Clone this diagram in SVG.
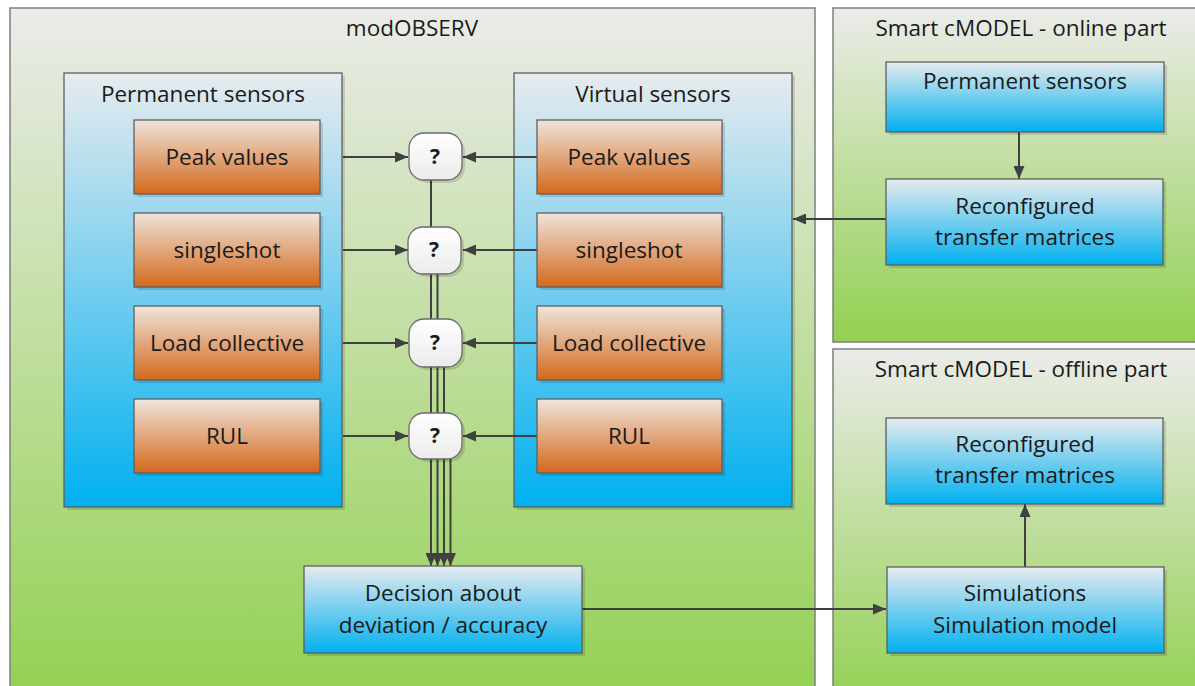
<svg xmlns="http://www.w3.org/2000/svg" width="1195" height="686" viewBox="0 0 1195 686">
  <defs>
    <linearGradient id="gGreen" x1="0" y1="0" x2="0" y2="1">
      <stop offset="0" stop-color="#ebebe9"/>
      <stop offset="1" stop-color="#92d050"/>
    </linearGradient>
    <linearGradient id="gBlue" x1="0" y1="0" x2="0" y2="1">
      <stop offset="0" stop-color="#e7ebee"/>
      <stop offset="1" stop-color="#00b0f0"/>
    </linearGradient>
    <linearGradient id="gOrange" x1="0" y1="0" x2="0" y2="1">
      <stop offset="0" stop-color="#f0e4dc"/>
      <stop offset="1" stop-color="#d2691c"/>
    </linearGradient>
    <linearGradient id="gWhite" x1="0" y1="0" x2="0" y2="1">
      <stop offset="0" stop-color="#ffffff"/>
      <stop offset="1" stop-color="#ebebeb"/>
    </linearGradient>
    <marker id="arr" viewBox="0 0 13 11" refX="13" refY="5.5" markerWidth="13" markerHeight="11" markerUnits="userSpaceOnUse" orient="auto">
      <path d="M0,0 L13,5.5 L0,11 Z" fill="#404040"/>
    </marker>
  </defs>
  <style>
    .frame { stroke: #7f7f7f; stroke-width: 1.5; fill: url(#gGreen); }
    .box { stroke: #5f5f5f; stroke-width: 1.3; }
    .blue { fill: url(#gBlue); }
    .orange { fill: url(#gOrange); }
    .q { fill: url(#gWhite); stroke: #6a6a6a; stroke-width: 1.3; }
    .shadow { fill: #000; opacity: 0.13; }
    text { font-family: "Open Sans", "Liberation Sans", sans-serif; font-size: 22.5px; fill: #1a1a1a; text-anchor: middle; }
    .qt { font-weight: bold; font-size: 21px; }
    .link { stroke: #404040; stroke-width: 2; fill: none; }
  </style>

  <rect width="1195" height="686" fill="#ffffff"/>

  <!-- containers -->
  <g id="modOBSERV">
    <rect class="frame" x="10" y="8" width="805" height="700"/>
    <text x="412" y="36">modOBSERV</text>
  </g>
  <g id="online-part">
    <rect class="frame" x="833" y="8" width="380" height="334"/>
    <text x="1021" y="36">Smart cMODEL - online part</text>
  </g>
  <g id="offline-part">
    <rect class="frame" x="833" y="349" width="380" height="360"/>
    <text x="1021" y="377">Smart cMODEL - offline part</text>
  </g>

  <g id="permanent-sensors">
    <rect class="shadow" x="67" y="76" width="278" height="434"/>
    <rect class="box blue" x="64" y="73" width="278" height="434"/>
    <text x="203" y="102">Permanent sensors</text>
  </g>
  <g id="virtual-sensors">
    <rect class="shadow" x="517" y="76" width="278" height="434"/>
    <rect class="box blue" x="514" y="73" width="278" height="434"/>
    <text x="653" y="102">Virtual sensors</text>
  </g>

  <!-- connectors -->
  <g id="connectors">
    <!-- inputs into comparison nodes -->
    <line class="link" x1="343" y1="157" x2="408" y2="157" marker-end="url(#arr)"/>
    <line class="link" x1="343" y1="250" x2="408" y2="250" marker-end="url(#arr)"/>
    <line class="link" x1="343" y1="343" x2="408" y2="343" marker-end="url(#arr)"/>
    <line class="link" x1="343" y1="436" x2="408" y2="436" marker-end="url(#arr)"/>
    <line class="link" x1="537" y1="157" x2="463" y2="157" marker-end="url(#arr)"/>
    <line class="link" x1="537" y1="250" x2="463" y2="250" marker-end="url(#arr)"/>
    <line class="link" x1="537" y1="343" x2="463" y2="343" marker-end="url(#arr)"/>
    <line class="link" x1="537" y1="436" x2="463" y2="436" marker-end="url(#arr)"/>
    <!-- comparison nodes to decision -->
    <line class="link" x1="431" y1="180" x2="431" y2="566" marker-end="url(#arr)"/>
    <line class="link" x1="437.5" y1="273" x2="437.5" y2="566" marker-end="url(#arr)"/>
    <line class="link" x1="444" y1="367" x2="444" y2="566" marker-end="url(#arr)"/>
    <line class="link" x1="450.5" y1="459" x2="450.5" y2="566" marker-end="url(#arr)"/>
    <!-- decision to simulations -->
    <line class="link" x1="582" y1="609" x2="886" y2="609" marker-end="url(#arr)"/>
    <!-- online part -->
    <line class="link" x1="1019" y1="132" x2="1019" y2="179" marker-end="url(#arr)"/>
    <line class="link" x1="886" y1="219" x2="793" y2="219" marker-end="url(#arr)"/>
    <!-- offline part -->
    <line class="link" x1="1025" y1="567" x2="1025" y2="504" marker-end="url(#arr)"/>
  </g>

  <!-- permanent sensor values -->
  <g id="p-peak">
    <rect class="shadow" x="137" y="123" width="186" height="74"/>
    <rect class="box orange" x="134" y="120" width="186" height="74"/>
    <text x="227" y="165">Peak values</text>
  </g>
  <g id="p-singleshot">
    <rect class="shadow" x="137" y="216" width="186" height="74"/>
    <rect class="box orange" x="134" y="213" width="186" height="74"/>
    <text x="227" y="258">singleshot</text>
  </g>
  <g id="p-load">
    <rect class="shadow" x="137" y="309" width="186" height="74"/>
    <rect class="box orange" x="134" y="306" width="186" height="74"/>
    <text x="227" y="351">Load collective</text>
  </g>
  <g id="p-rul">
    <rect class="shadow" x="137" y="402" width="186" height="74"/>
    <rect class="box orange" x="134" y="399" width="186" height="74"/>
    <text x="227" y="444">RUL</text>
  </g>

  <!-- virtual sensor values -->
  <g id="v-peak">
    <rect class="shadow" x="540" y="123" width="185" height="74"/>
    <rect class="box orange" x="537" y="120" width="185" height="74"/>
    <text x="629" y="165">Peak values</text>
  </g>
  <g id="v-singleshot">
    <rect class="shadow" x="540" y="216" width="185" height="74"/>
    <rect class="box orange" x="537" y="213" width="185" height="74"/>
    <text x="629" y="258">singleshot</text>
  </g>
  <g id="v-load">
    <rect class="shadow" x="540" y="309" width="185" height="74"/>
    <rect class="box orange" x="537" y="306" width="185" height="74"/>
    <text x="629" y="351">Load collective</text>
  </g>
  <g id="v-rul">
    <rect class="shadow" x="540" y="402" width="185" height="74"/>
    <rect class="box orange" x="537" y="399" width="185" height="74"/>
    <text x="629" y="444">RUL</text>
  </g>

  <!-- comparison nodes -->
  <g id="cmp-peak">
    <rect class="shadow" x="412" y="136" width="53" height="47" rx="15"/>
    <rect class="q" x="409" y="133" width="53" height="47" rx="15"/>
    <text class="qt" x="435" y="164">?</text>
  </g>
  <g id="cmp-singleshot">
    <rect class="shadow" x="411" y="230" width="53" height="47" rx="15"/>
    <rect class="q" x="408" y="227" width="53" height="47" rx="15"/>
    <text class="qt" x="434" y="257">?</text>
  </g>
  <g id="cmp-load">
    <rect class="shadow" x="412" y="322" width="53" height="48" rx="15"/>
    <rect class="q" x="409" y="319" width="53" height="48" rx="15"/>
    <text class="qt" x="435" y="350">?</text>
  </g>
  <g id="cmp-rul">
    <rect class="shadow" x="412" y="416" width="53" height="46" rx="15"/>
    <rect class="q" x="409" y="413" width="53" height="46" rx="15"/>
    <text class="qt" x="435" y="443">?</text>
  </g>

  <!-- decision -->
  <g id="decision">
    <rect class="shadow" x="307" y="569" width="278" height="87"/>
    <rect class="box blue" x="304" y="566" width="278" height="87"/>
    <text x="443" y="601">Decision about</text>
    <text x="443" y="633">deviation / accuracy</text>
  </g>

  <!-- online part -->
  <g id="online-sensors">
    <rect class="shadow" x="889" y="65" width="278" height="70"/>
    <rect class="box blue" x="886" y="62" width="278" height="70"/>
    <text x="1025" y="89">Permanent sensors</text>
  </g>
  <g id="online-matrices">
    <rect class="shadow" x="889" y="182" width="277" height="86"/>
    <rect class="box blue" x="886" y="179" width="277" height="86"/>
    <text x="1025" y="214">Reconfigured</text>
    <text x="1025" y="245">transfer matrices</text>
  </g>

  <!-- offline part -->
  <g id="offline-matrices">
    <rect class="shadow" x="889" y="421" width="277" height="86"/>
    <rect class="box blue" x="886" y="418" width="277" height="86"/>
    <text x="1025" y="452">Reconfigured</text>
    <text x="1025" y="483">transfer matrices</text>
  </g>
  <g id="simulations">
    <rect class="shadow" x="890" y="570" width="277" height="86"/>
    <rect class="box blue" x="887" y="567" width="277" height="86"/>
    <text x="1025" y="601">Simulations</text>
    <text x="1025" y="633">Simulation model</text>
  </g>
</svg>
